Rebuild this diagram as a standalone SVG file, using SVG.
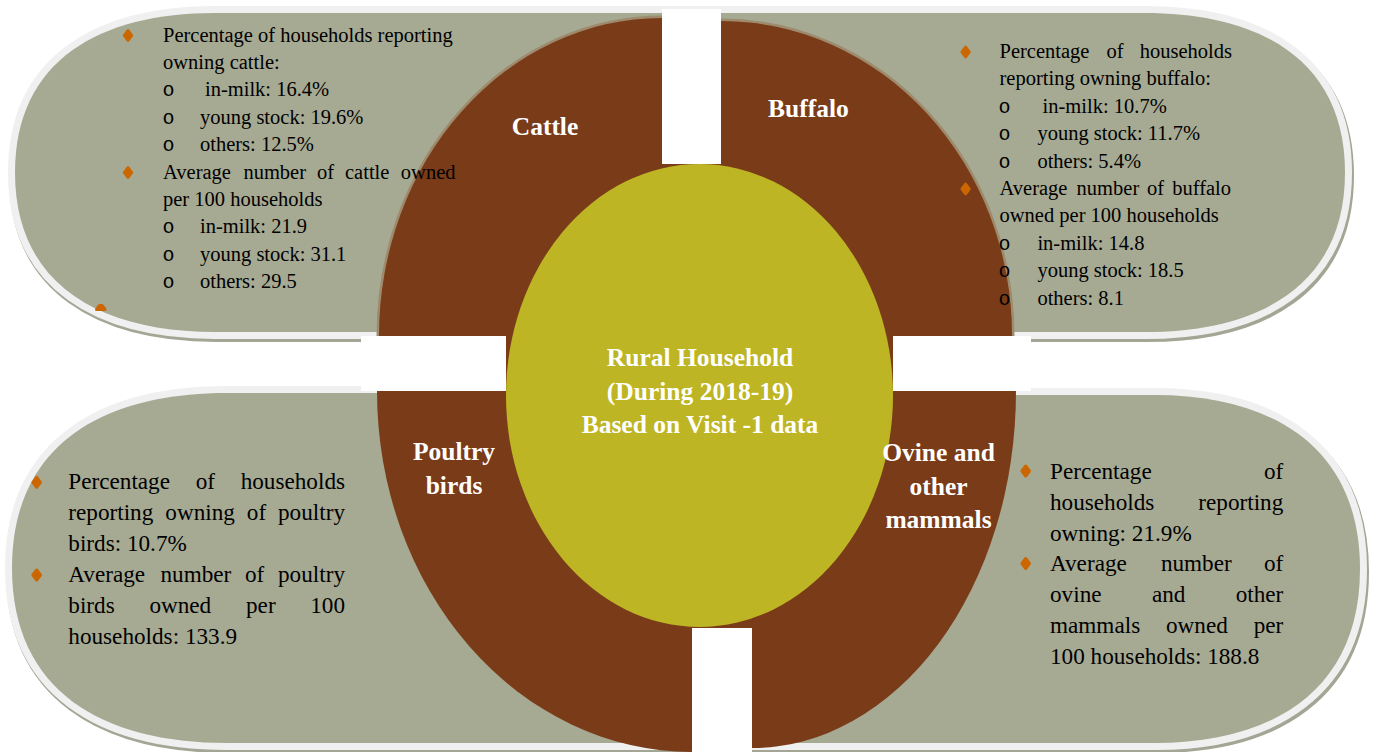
<svg xmlns="http://www.w3.org/2000/svg" xmlns:xlink="http://www.w3.org/1999/xlink" width="1379" height="752" viewBox="0 0 1379 752">
<style>
.shadow{fill:#A3A694;stroke:#A3A694;stroke-width:14;stroke-linejoin:round}
.band{fill:#F0F0F0;stroke:#F0F0F0;stroke-width:14;stroke-linejoin:round}
.fill{fill:#A6AA93}
.quad{fill:#7A3B19}
.quad-edge{fill:none;stroke:#9E8A6C;stroke-width:5}
.core{fill:#BDB524}
.gap{fill:#FFFFFF}
.t{font-family:"Liberation Serif","Times New Roman",serif;font-size:20.5px;fill:#000}
.tb{font-size:23.2px}
.o{font-family:"Liberation Mono","Courier New",monospace;font-size:20px;fill:#000}
.end{text-anchor:end}
.lbl{font-family:"Liberation Serif","Times New Roman",serif;font-weight:bold;font-size:25.5px;fill:#FFFFFF;text-anchor:middle}
.bul{fill:#CC6600;stroke:#CC6600;stroke-width:3;stroke-linejoin:round}
</style>
<defs>
<path id="p-tl" d="M 692,13 L 215,13 C 100,13 15,60 15,172.5 C 15,285 100,332 215,332 L 692,332 Z"/>
<path id="p-tr" d="M 692,13 L 1145,13 C 1260,13 1345,60 1345,172.5 C 1345,285 1260,332 1145,332 L 692,332 Z"/>
<path id="p-bl" d="M 700,393 L 227,393 C 102,393 12,445 12,568 C 12,691 102,743 227,743 L 700,743 Z"/>
<path id="p-br" d="M 700,395 L 1155,395 C 1272,395 1360,447 1360,569 C 1360,691 1272,743 1155,743 L 700,743 Z"/>
<path id="dia" class="bul" d="M0,-4.8 L3.6,0 L0,4.8 L-3.6,0 Z"/>
<path id="diab" class="bul" d="M0,-5 L3.8,0 L0,5 L-3.8,0 Z"/>
</defs>

<g id="panels">
<use href="#p-tl" class="shadow" transform="translate(1,3)"/>
<use href="#p-tr" class="shadow" transform="translate(2,3)"/>
<use href="#p-bl" class="shadow" transform="translate(1,3)"/>
<use href="#p-br" class="shadow" transform="translate(2,3)"/>
<use href="#p-tl" class="band"/>
<use href="#p-tr" class="band"/>
<use href="#p-bl" class="band"/>
<use href="#p-br" class="band"/>
<use href="#p-tl" class="fill"/>
<use href="#p-tr" class="fill"/>
<use href="#p-bl" class="fill"/>
<use href="#p-br" class="fill"/>
</g>

<g id="ring">
<path class="quad-edge" d="M 379,336 A 283 318 0 0 1 662,18"/>
<path class="quad-edge" d="M 721,21 A 291 315 0 0 1 1012,336"/>
<rect class="quad" x="506" y="164" width="387" height="464"/>
<path class="quad" d="M 662,336 L 379,336 A 283 318 0 0 1 662,18 Z"/>
<path class="quad" d="M 721,336 L 721,21 A 291 315 0 0 1 1012,336 Z"/>
<path class="quad" d="M 692,391 L 377,391 A 315 361 0 0 0 692,752 Z"/>
<path class="quad" d="M 752,391 L 1016,391 A 264 357 0 0 1 752,748 Z"/>
</g>

<g id="gaps">
<rect class="gap" x="662" y="9" width="59" height="155"/>
<rect class="gap" x="361" y="336" width="145" height="55"/>
<rect class="gap" x="893" y="336" width="138" height="55"/>
<rect class="gap" x="692" y="628" width="60" height="124"/>
</g>

<g id="rural-household">
<ellipse class="core" cx="699.5" cy="395.5" rx="193.5" ry="231.5"/>
<text class="lbl" x="700" y="366">Rural Household</text>
<text class="lbl" x="700" y="399.5">(During 2018-19)</text>
<text class="lbl" x="700" y="433">Based on Visit -1 data</text>
</g>

<g id="cattle">
<text class="lbl" x="545" y="135">Cattle</text>
</g>
<g id="buffalo">
<text class="lbl" x="808.5" y="116.7">Buffalo</text>
</g>
<g id="poultry">
<text class="lbl" x="454" y="460">Poultry</text>
<text class="lbl" x="454" y="494">birds</text>
</g>
<g id="ovine">
<text class="lbl" x="938.5" y="461">Ovine and</text>
<text class="lbl" x="938.5" y="495">other</text>
<text class="lbl" x="938.5" y="528">mammals</text>
</g>

<g id="cattle-details">
<use href="#dia" x="128" y="35.5"/>
<use href="#dia" x="128" y="172.5"/>
<path class="bul" d="M 96.5,309.5 L 99.5,305.5 L 102,305.5 L 105,309.5 Z"/>
<text class="t" x="163" y="41.5">Percentage of households reporting</text>
<text class="t" x="163" y="68.9">owning cattle:</text>
<text class="o" x="162.5" y="96.3">o</text><text class="t" x="205" y="96.3">in-milk: 16.4%</text>
<text class="o" x="162.5" y="123.7">o</text><text class="t" x="200" y="123.7">young stock: 19.6%</text>
<text class="o" x="162.5" y="151.1">o</text><text class="t" x="200" y="151.1">others: 12.5%</text>
<text class="t" y="178.5"><tspan x="163">Average</tspan><tspan x="243.4">number</tspan><tspan x="317">of</tspan><tspan x="345">cattle</tspan></text>
<text class="t end" x="455.5" y="178.5">owned</text>
<text class="t" x="163" y="205.9">per 100 households</text>
<text class="o" x="162.5" y="233.3">o</text><text class="t" x="200" y="233.3">in-milk: 21.9</text>
<text class="o" x="162.5" y="260.7">o</text><text class="t" x="200" y="260.7">young stock: 31.1</text>
<text class="o" x="162.5" y="288.1">o</text><text class="t" x="200" y="288.1">others: 29.5</text>
</g>

<g id="buffalo-details">
<use href="#dia" x="965.6" y="52"/>
<use href="#dia" x="965.6" y="189"/>
<text class="t" y="58"><tspan x="999.5">Percentage</tspan><tspan x="1106.5">of</tspan></text>
<text class="t end" x="1232" y="58">households</text>
<text class="t" x="999.5" y="85.4">reporting owning buffalo:</text>
<text class="o" x="998.5" y="112.8">o</text><text class="t" x="1042.6" y="112.8">in-milk: 10.7%</text>
<text class="o" x="998.5" y="140.2">o</text><text class="t" x="1037.4" y="140.2">young stock: 11.7%</text>
<text class="o" x="998.5" y="167.6">o</text><text class="t" x="1037.4" y="167.6">others: 5.4%</text>
<text class="t" y="195"><tspan x="999.5">Average</tspan><tspan x="1076.6">number</tspan><tspan x="1146.9">of</tspan></text>
<text class="t end" x="1231" y="195">buffalo</text>
<text class="t" x="999.5" y="222.4">owned per 100 households</text>
<text class="o" x="998.5" y="249.8">o</text><text class="t" x="1037.4" y="249.8">in-milk: 14.8</text>
<text class="o" x="998.5" y="277.2">o</text><text class="t" x="1037.4" y="277.2">young stock: 18.5</text>
<text class="o" x="998.5" y="304.6">o</text><text class="t" x="1037.4" y="304.6">others: 8.1</text>
</g>

<g id="poultry-details">
<use href="#diab" x="36.7" y="482.3"/>
<use href="#diab" x="36.7" y="575"/>
<text class="t tb" y="489.3"><tspan x="68.3">Percentage</tspan><tspan x="195.7">of</tspan></text>
<text class="t tb end" x="345" y="489.3">households</text>
<text class="t tb" y="520.3"><tspan x="68.3">reporting</tspan><tspan x="165.3">owning</tspan><tspan x="246.8">of</tspan></text>
<text class="t tb end" x="345" y="520.3">poultry</text>
<text class="t tb" x="68.3" y="551.3">birds: 10.7%</text>
<text class="t tb" y="582.3"><tspan x="68.3">Average</tspan><tspan x="160.5">number</tspan><tspan x="245">of</tspan></text>
<text class="t tb end" x="345" y="582.3">poultry</text>
<text class="t tb" y="613.3"><tspan x="68.3">birds</tspan><tspan x="149.4">owned</tspan><tspan x="246">per</tspan></text>
<text class="t tb end" x="345" y="613.3">100</text>
<text class="t tb" x="68.3" y="644.3">households: 133.9</text>
</g>

<g id="ovine-details">
<use href="#diab" x="1025.7" y="471"/>
<use href="#diab" x="1025.7" y="563.5"/>
<text class="t tb" x="1050" y="479">Percentage</text>
<text class="t tb end" x="1283.3" y="479">of</text>
<text class="t tb" x="1050" y="509.8">households</text>
<text class="t tb end" x="1283.3" y="509.8">reporting</text>
<text class="t tb" x="1050" y="540.6">owning: 21.9%</text>
<text class="t tb" y="571.4"><tspan x="1050">Average</tspan><tspan x="1160.9">number</tspan></text>
<text class="t tb end" x="1283.3" y="571.4">of</text>
<text class="t tb" y="602.2"><tspan x="1050">ovine</tspan><tspan x="1151.9">and</tspan></text>
<text class="t tb end" x="1283.3" y="602.2">other</text>
<text class="t tb" y="633"><tspan x="1050">mammals</tspan><tspan x="1166">owned</tspan></text>
<text class="t tb end" x="1283.3" y="633">per</text>
<text class="t tb" x="1050" y="663.8">100 households: 188.8</text>
</g>
</svg>
